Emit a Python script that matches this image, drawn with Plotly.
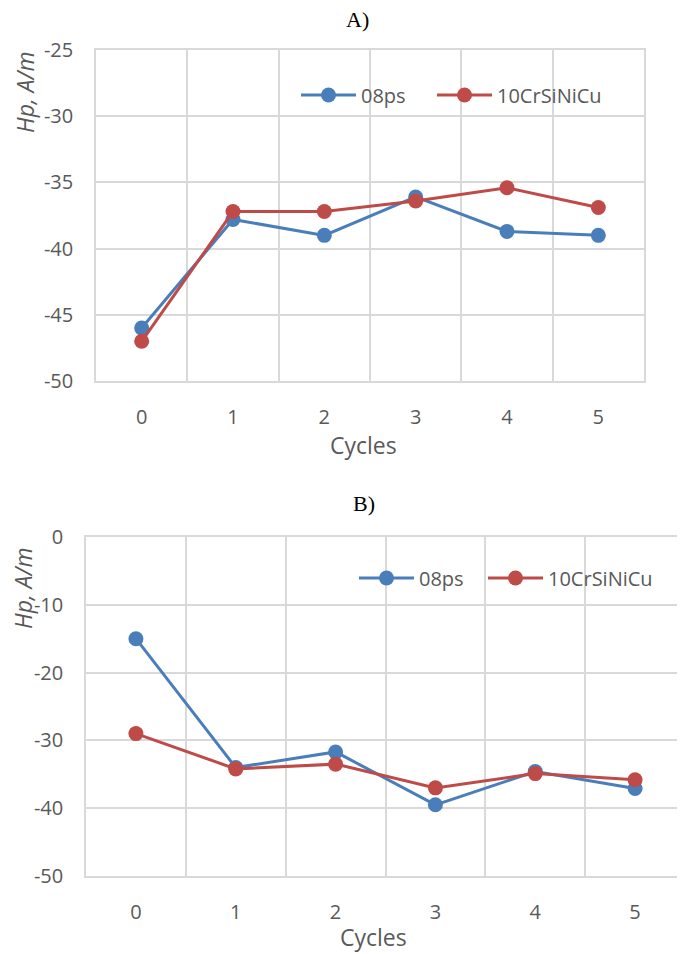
import plotly.graph_objects as go

cycles = [0, 1, 2, 3, 4, 5]
series_names = ["08ps", "10CrSiNiCu"]
a_08ps = [-46.0, -37.8, -39.0, -36.1, -38.7, -39.0]
a_10cr = [-47.0, -37.2, -37.2, -36.4, -35.4, -36.9]
b_08ps = [-15.0, -34.0, -31.7, -39.5, -34.6, -37.1]
b_10cr = [-29.0, -34.2, -33.5, -37.0, -34.9, -35.8]
a_ticks = [-50, -45, -40, -35, -30, -25]
b_ticks = [-50, -40, -30, -20, -10, 0]

BLUE = "#4A7EBB"
RED = "#BE4B48"
GRID = "#D9D9D9"
TXT = "#595959"
FONT = "Open Sans"

# page body has an 8px margin; the figure is sized so that it ends at the window edge
OFF = 8
W, H = 685 - OFF, 954 - OFF


def px(x):
    return (x - OFF) / W


def py(y):
    return 1 - (y - OFF) / H


fig = go.Figure()


def add(x, y, name, color, xa, ya, legend):
    fig.add_trace(go.Scatter(
        x=x, y=y, name=name, mode="lines+markers",
        line=dict(color=color, width=3),
        marker=dict(color=color, size=15),
        xaxis=xa, yaxis=ya, legend=legend, showlegend=True,
    ))


add(cycles, a_08ps, series_names[0], BLUE, "x", "y", "legend")
add(cycles, a_10cr, series_names[1], RED, "x", "y", "legend2")
add(cycles, b_08ps, series_names[0], BLUE, "x2", "y2", "legend3")
add(cycles, b_10cr, series_names[1], RED, "x2", "y2", "legend4")

xcommon = dict(
    range=[-0.5, 5.5], tick0=0, dtick=1, tickmode="linear",
    showgrid=False, zeroline=False,
    showline=True, mirror=True, linecolor=GRID, linewidth=1.5,
    ticks="", ticklabelstandoff=17,
    tickfont=dict(family=FONT, size=20, color=TXT),
    minor=dict(tick0=0.5, dtick=1, showgrid=True, gridcolor=GRID, gridwidth=1.5, ticks=""),
    fixedrange=True, automargin=False,
)
ycommon = dict(
    showgrid=True, gridcolor=GRID, gridwidth=1.5, zeroline=False,
    showline=True, mirror=True, linecolor=GRID, linewidth=1.5,
    ticks="", ticklabelstandoff=17, tickmode="array",
    tickfont=dict(family=FONT, size=20, color=TXT),
    fixedrange=True, automargin=False,
)

legend_common = dict(
    orientation="h", font=dict(family=FONT, size=20, color=TXT),
    bgcolor="rgba(0,0,0,0)", itemwidth=55, yanchor="middle", xanchor="left",
    itemclick=False, itemdoubleclick=False,
)

fig.update_layout(
    width=W, height=H,
    margin=dict(l=0, r=0, t=0, b=0, pad=0, autoexpand=False),
    paper_bgcolor="white", plot_bgcolor="white",
    xaxis=dict(domain=[px(96), px(644)], anchor="y", **xcommon),
    yaxis=dict(domain=[py(381), py(50)], anchor="x", range=[-50, -25],
               tickvals=a_ticks, ticktext=[str(v) for v in a_ticks], **ycommon),
    xaxis2=dict(domain=[px(86), px(685)], anchor="y2", **xcommon),
    yaxis2=dict(domain=[py(876), py(537)], anchor="x2", range=[-50, 0],
                tickvals=b_ticks, ticktext=[str(v) for v in b_ticks], **ycommon),
    legend=dict(x=px(296), y=py(95), **legend_common),
    legend2=dict(x=px(432), y=py(95), **legend_common),
    legend3=dict(x=px(354), y=py(578), **legend_common),
    legend4=dict(x=px(483), y=py(578), **legend_common),
    showlegend=True,
)

annotations = [
    dict(text="A)", x=px(357), y=py(19), font=dict(family="Liberation Serif", size=22, color="black")),
    dict(text="B)", x=px(364), y=py(503), font=dict(family="Liberation Serif", size=22, color="black")),
    dict(text="Cycles", x=px(363), y=py(445), font=dict(family=FONT, size=23, color=TXT)),
    dict(text="Cycles", x=px(374), y=py(937), font=dict(family=FONT, size=23, color=TXT)),
    dict(text="<i>Hp, A/m</i>", x=px(25), y=py(92), textangle=-90, font=dict(family=FONT, size=23, color=TXT)),
    dict(text="<i>Hp, A/m</i>", x=px(23), y=py(588), textangle=-90, font=dict(family=FONT, size=23, color=TXT)),
]
for a in annotations:
    a.update(xref="paper", yref="paper", showarrow=False, xanchor="center", yanchor="middle")
fig.update_layout(annotations=annotations)

fig.write_html("out.html")
